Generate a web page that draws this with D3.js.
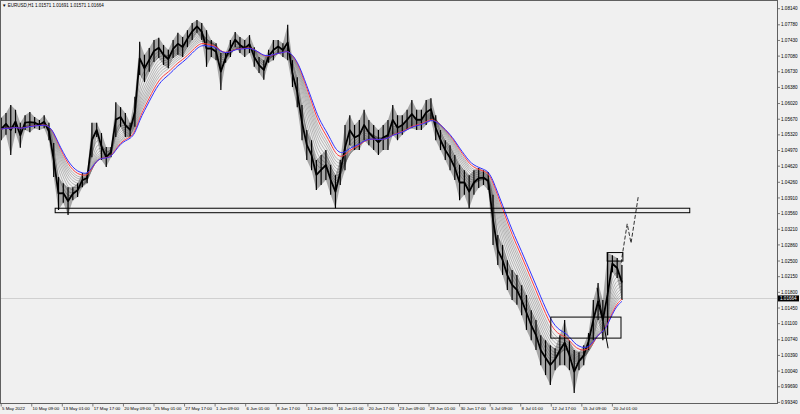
<!DOCTYPE html>
<html><head><meta charset="utf-8">
<script src="https://cdn.jsdelivr.net/npm/d3@7"></script>
<style>body{margin:0;background:#f0f0f0;} svg{display:block}</style>
</head><body><svg id="c" width="800" height="414"></svg>
<script>
// ---------------- data ----------------
const headerText = "\u25BC EURUSD,H1  1.01571 1.01691 1.01571 1.01664";
const priceLabels = ["1.08140","1.07780","1.07430","1.07080","1.06730","1.06380","1.06020","1.05670","1.05320","1.04970","1.04620","1.04260","1.03910","1.03560","1.03210","1.02860","1.02500","1.02150","1.01800","1.01450","1.01100","1.00740","1.00390","1.00040","0.99690","0.99340"];
const timeLabels = ["5 May 2022","10 May 09:00","13 May 01:00","17 May 17:00","20 May 09:00","25 May 01:00","27 May 17:00","1 Jun 09:00","6 Jun 01:00","8 Jun 17:00","13 Jun 09:00","16 Jun 01:00","20 Jun 17:00","23 Jun 09:00","28 Jun 01:00","30 Jun 17:00","5 Jul 09:00","8 Jul 01:00","12 Jul 17:00","15 Jul 09:00","20 Jul 01:00"];
const timeLabelBars = [0,64,128,192,256,320,384,448,512,576,640,704,768,832,896,960,1024,1088,1152,1216,1280];
const barsPerSample = 10;
const highs = [1.0570,1.0581,1.0599,1.0588,1.0559,1.0576,1.0583,1.0572,1.0565,1.0576,
1.0559,1.0514,1.0438,1.0424,1.0415,1.0415,1.0424,1.0447,1.0447,1.0559,
1.0559,1.0536,1.0505,1.0505,1.0605,1.0594,1.0581,1.0559,1.0617,1.0740,
1.0711,1.0726,1.0744,1.0749,1.0733,1.0722,1.0744,1.0760,1.0751,1.0766,
1.0782,1.0789,1.0782,1.0766,1.0744,1.0737,1.0715,1.0715,1.0744,1.0762,
1.0751,1.0744,1.0755,1.0728,1.0706,1.0699,1.0722,1.0744,1.0744,1.0737,
1.0778,1.0699,1.0661,1.0599,1.0543,1.0520,1.0476,1.0487,1.0498,1.0465,
1.0442,1.0476,1.0554,1.0576,1.0554,1.0565,1.0588,1.0565,1.0554,1.0543,
1.0554,1.0565,1.0599,1.0576,1.0576,1.0588,1.0610,1.0588,1.0588,1.0610,
1.0614,1.0576,1.0543,1.0520,1.0509,1.0487,1.0465,1.0453,1.0442,1.0453,
1.0458,1.0453,1.0449,1.0398,1.0308,1.0286,1.0252,1.0230,1.0219,1.0196,
1.0174,1.0140,1.0118,1.0084,1.0073,1.0062,1.0055,1.0084,1.0118,1.0073,
1.0051,1.0046,1.0062,1.0089,1.0163,1.0201,1.0163,1.0268,1.0263,1.0257,
1.0241];
const lows = [1.0520,1.0532,1.0487,1.0536,1.0503,1.0543,1.0538,1.0547,1.0543,1.0547,
1.0520,1.0438,1.0364,1.0380,1.0353,1.0386,1.0393,1.0415,1.0424,1.0482,
1.0527,1.0476,1.0460,1.0482,1.0527,1.0550,1.0527,1.0527,1.0550,1.0666,
1.0650,1.0673,1.0695,1.0704,1.0688,1.0681,1.0704,1.0711,1.0706,1.0728,
1.0744,1.0760,1.0744,1.0684,1.0706,1.0699,1.0632,1.0693,1.0706,1.0728,
1.0715,1.0706,1.0715,1.0684,1.0670,1.0655,1.0693,1.0699,1.0715,1.0706,
1.0699,1.0639,1.0594,1.0520,1.0476,1.0453,1.0409,1.0420,1.0431,1.0398,
1.0368,1.0420,1.0453,1.0509,1.0498,1.0498,1.0520,1.0509,1.0498,1.0487,
1.0498,1.0498,1.0532,1.0520,1.0532,1.0543,1.0547,1.0543,1.0543,1.0554,
1.0565,1.0520,1.0498,1.0476,1.0453,1.0431,1.0386,1.0398,1.0368,1.0398,
1.0413,1.0420,1.0409,1.0286,1.0241,1.0219,1.0185,1.0163,1.0152,1.0129,
1.0096,1.0073,1.0051,1.0017,0.9995,0.9973,1.0006,1.0017,1.0017,1.0006,
0.9955,1.0006,1.0017,1.0051,1.0073,1.0118,1.0073,1.0084,1.0225,1.0212,
1.0163];
const lastPrice = 1.01664;
const ribbonPeriods = [2,2.75,3.5,4.25,5,5.75,6.5,7.25,8];
const redPeriod = 9, bluePeriod = 10;
// drawn objects: [bar1, bar2, price1, price2]
const rectangles = [[113,1442,1.0368,1.0358],[1151,1298,1.01247,1.00777],[1269,1302,1.02689,1.02499]];
const trendLine = [[1248,1.0190],[1271,1.0055]];
const projection = [[1298,1.0245],[1311,1.0333],[1319,1.0290],[1334,1.0393]];

// ---------------- drawing ----------------
const svg = d3.select("#c");
const W = 800, H = 414;
const plotRight = 777.5, plotBottom = 403.5;
const x = d3.scaleLinear().domain([0,1300]).range([1.2,621.95]);
const y = d3.scaleLinear().domain([0.99340,1.08140]).range([402.4,8.7]);
const font = "'Liberation Sans', Arial, sans-serif";

svg.append("rect").attr("width",W).attr("height",H).attr("fill","#f0f0f0");

// current price line
svg.append("line").attr("x1",0).attr("x2",plotRight).attr("y1",Math.round(y(lastPrice))+0.5).attr("y2",Math.round(y(lastPrice))+0.5)
  .attr("stroke","#c8c8c8").attr("stroke-width",0.8);

const samples = highs.map((h,i)=>({bar:i*barsPerSample, hi:h, lo:lows[i], mid:(h+lows[i])/2}));

function ema(period){
  const a = 2/(period+1); let v = samples[0].mid;
  return samples.map((s,i)=>{ if(i>0) v = v + a*(s.mid - v); return {bar:s.bar, v}; });
}
const maLine = d3.line().x(d=>x(d.bar)).y(d=>y(d.v)).curve(d3.curveBasis);

// ribbon (under price)
const rib = svg.append("g");
ribbonPeriods.forEach(p=>{
  rib.append("path").datum(ema(p)).attr("d",maLine).attr("fill","none").attr("stroke","#7a7a7a").attr("stroke-width",0.6).attr("stroke-opacity",0.85);
});

// price: light hi/lo envelope, core line and hi/lo whiskers
svg.append("path").datum(samples)
  .attr("d", d3.area().x(d=>x(d.bar)).y0(d=>y(d.lo)).y1(d=>y(d.hi)).curve(d3.curveLinear))
  .attr("fill","#000").attr("fill-opacity",0.3);
svg.append("path").datum(samples)
  .attr("d", d3.line().x(d=>x(d.bar)).y(d=>y(d.mid)))
  .attr("fill","none").attr("stroke","#000").attr("stroke-width",1.8).attr("stroke-linejoin","round");
svg.append("g").selectAll("line").data(samples).join("line")
  .attr("x1",d=>x(d.bar)).attr("x2",d=>x(d.bar)).attr("y1",d=>y(d.hi)).attr("y2",d=>y(d.lo))
  .attr("stroke","#000").attr("stroke-width",1.2);

svg.append("path").datum(ema(redPeriod)).attr("d",maLine).attr("fill","none").attr("stroke","#ff4040").attr("stroke-width",1);
svg.append("path").datum(ema(bluePeriod)).attr("d",maLine).attr("fill","none").attr("stroke","#3030ff").attr("stroke-width",1);

// drawn objects
svg.append("g").selectAll("rect").data(rectangles).join("rect")
  .attr("x",d=>x(d[0])).attr("width",d=>x(d[1])-x(d[0]))
  .attr("y",d=>y(d[2])).attr("height",d=>y(d[3])-y(d[2]))
  .attr("fill","none").attr("stroke","#000").attr("stroke-width",1);
svg.append("path").attr("d",d3.line().x(d=>x(d[0])).y(d=>y(d[1]))(trendLine)).attr("stroke","#000").attr("stroke-width",1).attr("fill","none");
svg.append("path").attr("d",d3.line().x(d=>x(d[0])).y(d=>y(d[1]))(projection)).attr("stroke","#000").attr("stroke-width",0.8).attr("stroke-dasharray","4,2").attr("fill","none");

// frame
svg.append("rect").attr("x",0.5).attr("y",0.5).attr("width",plotRight-0.5).attr("height",plotBottom-0.5)
  .attr("fill","none").attr("stroke","#606060").attr("stroke-width",1);

// y axis labels
const yAxis = svg.append("g");
priceLabels.forEach(t=>{
  const v = +t, yy = y(v);
  yAxis.append("line").attr("x1",plotRight).attr("x2",plotRight+2.5).attr("y1",yy).attr("y2",yy).attr("stroke","#606060").attr("stroke-width",0.8);
  yAxis.append("text").attr("x",781).attr("y",yy).attr("dy","0.35em").text(t)
    .attr("font-family",font).attr("font-size",4.6).attr("fill","#000");
});
// last price box
const ly = y(lastPrice);
svg.append("rect").attr("x",778).attr("y",ly-3).attr("width",21).attr("height",6).attr("fill","#000");
svg.append("text").attr("x",780).attr("y",ly).attr("dy","0.35em").text(lastPrice.toFixed(5))
  .attr("font-family",font).attr("font-size",4.6).attr("fill","#fff");

// x axis labels
const xAxis = svg.append("g");
timeLabels.forEach((t,i)=>{
  const xx = x(timeLabelBars[i]);
  xAxis.append("line").attr("x1",xx).attr("x2",xx).attr("y1",plotBottom).attr("y2",plotBottom+3).attr("stroke","#606060").attr("stroke-width",0.8);
  xAxis.append("text").attr("x",xx+0.8).attr("y",408.5).attr("dy","0.35em").text(t)
    .attr("font-family",font).attr("font-size",4.4).attr("fill","#000");
});

// header
svg.append("text").attr("x",2).attr("y",5).attr("dy","0.35em").text(headerText)
  .attr("font-family",font).attr("font-size",4.5).attr("fill","#000");
</script></body></html>
